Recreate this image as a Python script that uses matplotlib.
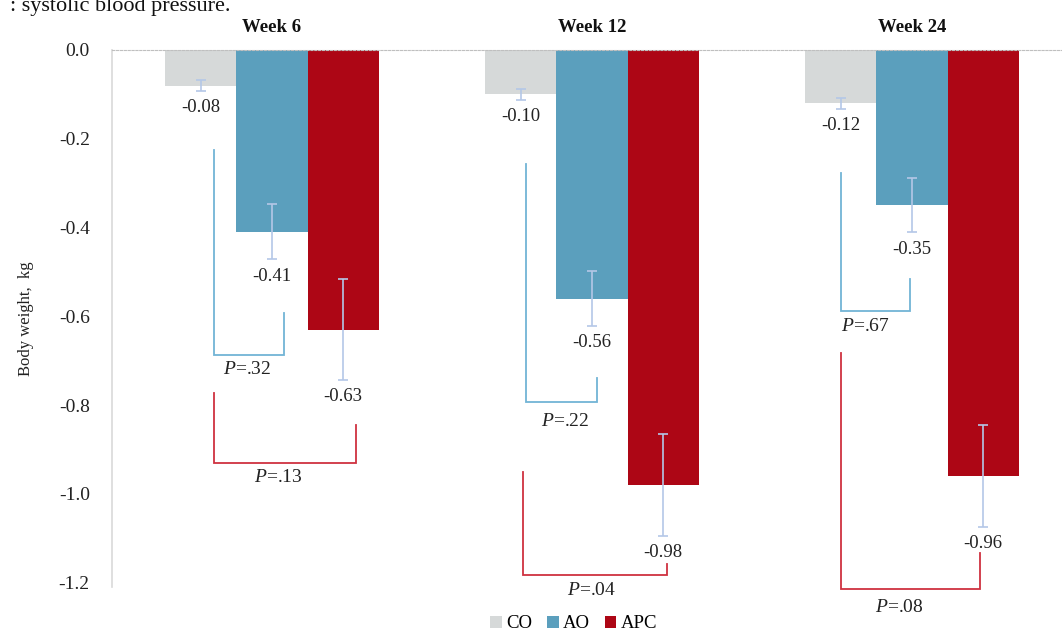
import matplotlib
matplotlib.use("Agg")
import matplotlib.pyplot as plt
import numpy as np

# ---- data ----
weeks = ["Week 6", "Week 12", "Week 24"]
series = ["CO", "AO", "APC"]
co_vals = [-0.08, -0.10, -0.12]
ao_vals = [-0.41, -0.56, -0.35]
apc_vals = [-0.63, -0.98, -0.96]
co_err = [0.012, 0.013, 0.012]
ao_err = [0.062, 0.061, 0.061]
apc_err = [0.113, 0.115, 0.115]
p_ao = [".32", ".22", ".67"]
p_apc = [".13", ".04", ".08"]
yticks = [0.0, -0.2, -0.4, -0.6, -0.8, -1.0, -1.2]

colors = ["#d6d9d9", "#5b9fbd", "#ad0615"]
err_color = "#b4c7e7"
blue_br = "#72b4d6"
red_br = "#cf3140"

plt.rcParams["font.family"] = ["Liberation Serif", "DejaVu Serif"]
plt.rcParams["mathtext.fontset"] = "custom"
plt.rcParams["mathtext.it"] = "Liberation Serif:italic"
plt.rcParams["mathtext.rm"] = "Liberation Serif"

W, H = 1062, 633
fig = plt.figure(figsize=(W / 100, H / 100), dpi=100)
ax = fig.add_axes([112 / W, (H - 587) / H, 950 / W, 537 / H])
ax.set_ylim(-1.21, 0)
ax.set_xlim(-0.5, -0.5 + 950 / 320)

x = np.arange(len(weeks))
bw = 0.222
offs = [-0.223, 0.0, 0.222]
vals = [co_vals, ao_vals, apc_vals]
errs = [co_err, ao_err, apc_err]

for i, (v, e, c, name) in enumerate(zip(vals, errs, colors, series)):
    xs = x + offs[i]
    ax.bar(xs, v, width=bw, color=c, label=name, zorder=2)
    ax.errorbar(xs, v, yerr=e, fmt="none", ecolor=err_color, elinewidth=1.2,
                capsize=3.6, capthick=1.2, zorder=3)
    for xi, vi, ei in zip(xs, v, e):
        ax.annotate(f"{vi:.2f}", (xi, vi - ei), xytext=(0, -6),
                    textcoords="offset points", ha="center", va="top",
                    fontsize=13.5, color="#222222", zorder=4)

# significance brackets (group-relative annotation geometry)
br_blue = [(-0.181, 0.0375, -0.225, -0.687, -0.592),
           (-0.206, 0.016, -0.257, -0.793, -0.739),
           (-0.222, -0.006, -0.277, -0.588, -0.516)]
br_red = [(-0.181, 0.2625, -0.773, -0.930, -0.845),
          (-0.216, 0.234, -0.950, -1.182, -1.158),
          (-0.222, 0.2125, -0.682, -1.214, -1.133)]
lab_blue = [(-0.078, -0.721), (-0.084, -0.838), (-0.147, -0.622)]
lab_red = [(0.019, -0.964), (0.0, -1.218), (-0.041, -1.257)]

for g in range(len(weeks)):
    for br, col, lab, p in ((br_blue[g], blue_br, lab_blue[g], p_ao[g]),
                            (br_red[g], red_br, lab_red[g], p_apc[g])):
        xl, xr, ytop, ybot, yrt = br
        ax.plot([g + xl, g + xl, g + xr, g + xr], [ytop, ybot, ybot, yrt],
                color=col, lw=1.3, clip_on=False, zorder=1,
                solid_joinstyle="miter")
        ax.text(g + lab[0], lab[1], r"$\mathit{P}$=" + p, ha="center",
                va="center", fontsize=14, color="#222222", clip_on=False)

# week titles
for g, wk in enumerate(weeks):
    fig.text((112 + 320 * g + 160) / W, 1 - 27 / H, wk, ha="center",
             va="center", fontsize=13.5, fontweight="bold", color="#111111")

ax.set_yticks(yticks)
ax.set_yticklabels([f"{t:.1f}" for t in yticks], fontsize=14, color="#222222")
ax.tick_params(axis="y", length=0, pad=16)
ax.set_xticks([])
for s in ["right", "bottom"]:
    ax.spines[s].set_visible(False)
ax.spines["left"].set_color("#d9d9d9")
ax.spines["left"].set_linewidth(1.2)
ax.spines["top"].set_color("#bfbfbf")
ax.spines["top"].set_linestyle((0, (2, 1.5)))
ax.spines["top"].set_linewidth(0.8)
ax.set_ylabel("Body weight,  kg", fontsize=12, labelpad=18, color="#222222")

fig.legend(loc="center", bbox_to_anchor=(574 / W, 9 / H), ncol=3,
           frameon=False, fontsize=13.5, handlelength=0.6, handleheight=0.6,
           handletextpad=0.25, columnspacing=0.8, borderpad=0)

fig.text(10 / W, 1 - 11 / H, ": systolic blood pressure.", ha="left",
         va="baseline", fontsize=16, color="#111111")

fig.savefig("out.png", dpi=100)
